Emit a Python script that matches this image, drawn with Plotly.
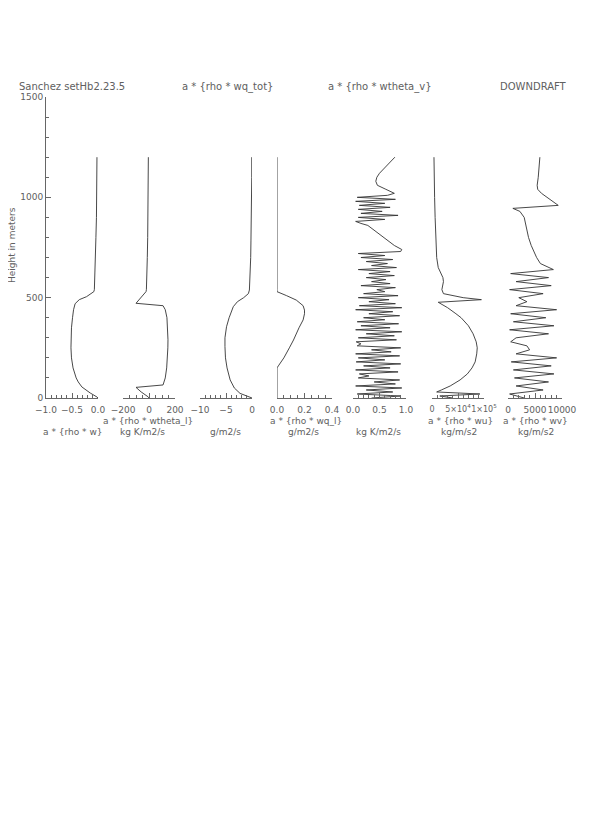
import plotly.graph_objects as go

# ---------------- data ----------------
h_w = [0, 5, 25, 55, 80, 100, 150, 200, 250, 300, 350, 400, 440, 470, 490, 505, 520, 530, 540, 600, 700, 800, 900, 1000, 1100, 1200]
v_w = [0, -0.02, -0.15, -0.31, -0.38, -0.42, -0.48, -0.51, -0.52, -0.52, -0.51, -0.49, -0.47, -0.44, -0.36, -0.22, -0.12, -0.08, -0.07, -0.06, -0.05, -0.04, -0.03, -0.03, -0.02, -0.02]

h_thl = [0, 5, 30, 53, 65, 100, 150, 200, 250, 290, 350, 400, 440, 460, 472, 490, 510, 530, 540, 600, 700, 800, 900, 1000, 1100, 1200]
v_thl = [0, -5, -60, -100, 108, 125, 136, 142, 145, 146, 144, 138, 125, 108, -100, -75, -45, -23, -20, -16, -13, -10, -8, -6, -5, -5]

h_qt = [0, 10, 23, 50, 90, 150, 200, 256, 300, 355, 400, 455, 480, 500, 520, 538, 600, 700, 787, 900, 1036, 1100, 1200]
v_qt = [0, -1.2, -2.3, -3.4, -4.2, -4.8, -5.1, -5.2, -5.2, -4.9, -4.4, -3.6, -2.8, -1.6, -0.7, -0.5, -0.35, -0.25, -0.2, -0.1, -0.05, -0.05, -0.05]

h_ql = [0, 100, 150, 160, 200, 250, 289, 350, 389, 420, 438, 460, 488, 510, 530, 540, 600, 800, 1000, 1200]
v_ql = [0, 0, 0, 0.01, 0.05, 0.09, 0.12, 0.16, 0.19, 0.2, 0.2, 0.19, 0.14, 0.07, 0.0, 0, 0, 0, 0, 0]

h_thv = [0, 10, 20, 30, 40, 50, 60, 70, 80, 90, 100, 110, 120, 130, 140, 150, 160, 170, 180, 190,
         200, 210, 220, 230, 240, 250, 260, 270, 280, 290, 300, 310, 320, 330, 340, 350, 360, 370, 380, 390,
         400, 410, 420, 430, 440, 450, 460, 470, 480, 490, 500, 510, 520, 530, 540, 550, 560, 570, 580, 590,
         600, 610, 620, 630, 640, 650, 660, 670, 680, 690, 700, 710, 720, 730, 740,
         760, 780, 800, 820, 840, 860, 870, 880, 890, 900, 910, 920, 930, 940, 950, 960, 970, 980, 990, 1000,
         1010, 1020, 1040, 1060, 1080, 1100, 1120, 1140, 1160, 1180, 1200]
v_thv = [0.35, 0.90, 0.08, 0.75, 0.25, 0.92, 0.05, 0.80, 0.40, 0.88, 0.10, 0.30, 0.12, 0.85, 0.05, 0.70, 0.20, 0.90, 0.06, 0.60,
         0.10, 0.88, 0.05, 0.72, 0.35, 0.90, 0.08, 0.15, 0.06, 0.82, 0.10, 0.78, 0.25, 0.92, 0.05, 0.70, 0.15, 0.86, 0.08, 0.60,
         0.20, 0.88, 0.30, 0.75, 0.05, 0.92, 0.12, 0.80, 0.30, 0.68, 0.10, 0.85, 0.20, 0.60, 0.45, 0.80, 0.15, 0.70, 0.35, 0.62,
         0.25, 0.78, 0.30, 0.70, 0.10, 0.82, 0.35, 0.65, 0.25, 0.75, 0.15, 0.60, 0.10, 0.90, 0.92,
         0.78, 0.68, 0.58, 0.50, 0.40, 0.28, 0.15, 0.05, 0.60, 0.10, 0.85, 0.15, 0.55, 0.10, 0.70, 0.12, 0.60, 0.05, 0.80, 0.08,
         0.65, 0.78, 0.62, 0.46, 0.43, 0.45, 0.50, 0.57, 0.64, 0.72, 0.79]

h_wu = [0, 10, 20, 30, 40, 60, 90, 120, 150, 180, 220, 250, 280, 320, 360, 400, 420, 450, 477, 490, 500, 520, 540, 560, 580, 600, 620, 650, 700, 800, 900, 1000, 1100, 1200]
v_wu = [40000, 15000, 92000, 9000, 18000, 35000, 54000, 68000, 77000, 83000, 86000, 87000, 85000, 79000, 70000, 56000, 46000, 30000, 12000, 95000, 60000, 22000, 19000, 21000, 22000, 21000, 17000, 12000, 9000, 7000, 6000, 5000, 4500, 3800]

h_wv = [0, 20, 40, 60, 80, 100, 120, 140, 160, 180, 200, 220, 240, 260, 280, 300, 320, 340, 360, 380,
        400, 420, 440, 460, 480, 500, 520, 540, 560, 580, 600, 620, 640, 650, 670, 700, 730, 760, 800, 850,
        900, 930, 945, 960, 990, 1020, 1040, 1060, 1100, 1150, 1200]
v_wv = [3000, 300, 6500, 1500, 7500, 1200, 8500, 1000, 8000, 600, 9000, 1500, 4000, 3500, 500, 1500, 7500, 300, 8500, 1000,
        7000, 500, 9000, 1500, 3500, 2000, 6500, 300, 8000, 1500, 7500, 500, 8400, 7500, 6000, 5300, 4800, 4300, 3800, 3400,
        3000, 2200, 900, 9300, 7800, 6200, 5500, 5400, 5600, 5700, 5900]

panels = [
    dict(h=h_w, v=v_w, rng=[-1, 0], tv=[-1, -0.5, 0], tt=["\u22121.0", "\u22120.5", "0.0"], minor=0.1, px=(46, 98), fs=9),
    dict(h=h_thl, v=v_thl, rng=[-200, 200], tv=[-200, 0, 200], tt=["\u2212200", "0", "200"], minor=50, px=(123, 175), fs=9),
    dict(h=h_qt, v=v_qt, rng=[-10, 0], tv=[-10, -5, 0], tt=["\u221210", "\u22125", "0"], minor=1, px=(200, 252), fs=9),
    dict(h=h_ql, v=v_ql, rng=[0, 0.4], tv=[0, 0.2, 0.4], tt=["0.0", "0.2", "0.4"], minor=0.05, px=(277, 332), fs=9),
    dict(h=h_thv, v=v_thv, rng=[0, 1], tv=[0, 0.5, 1], tt=["0.0", "0.5", "1.0"], minor=0.1, px=(353, 406), fs=9),
    dict(h=h_wu, v=v_wu, rng=[0, 100000], tv=[0, 50000, 100000], tt=["0", "5\u00d710<sup>4</sup>", "1\u00d710<sup>5</sup>"], minor=10000, px=(432, 484), fs=8),
    dict(h=h_wv, v=v_wv, rng=[0, 10000], tv=[0, 5000, 10000], tt=["0", "5000", "10000"], minor=1000, px=(508, 562), fs=9),
]

W, H = 595, 833
OX, OY = 8, 8          # page offset of the plot inside the browser window
Y0, Y1 = 398, 97       # pixel rows of 0 m and 1500 m (window coords)
LINE = "#333333"
AX = "#666666"
TXT = "#606060"
FONT = "DejaVu Sans"

def px(x):
    return (x - OX) / W

def py(y):
    return 1 - (y - OY) / H

fig = go.Figure()
layout = dict(
    width=W, height=H, margin=dict(l=0, r=0, t=0, b=0, pad=0, autoexpand=False),
    paper_bgcolor="white", plot_bgcolor="white", showlegend=False,
    font=dict(family=FONT, size=9, color=TXT),
)

for i, p in enumerate(panels, start=1):
    xa = "x" if i == 1 else f"x{i}"
    fig.add_trace(go.Scatter(x=p["v"], y=p["h"], mode="lines", xaxis=xa, yaxis="y",
                             line=dict(color=LINE, width=0.9), hoverinfo="skip"))
    layout["xaxis" if i == 1 else f"xaxis{i}"] = dict(
        domain=[px(p["px"][0]), px(p["px"][1])], anchor="y", range=p["rng"],
        automargin=False, tickangle=0, ticklabelstandoff=3,
        showgrid=False, zeroline=False, showline=True, linecolor=AX, linewidth=1,
        ticks="inside", ticklen=5, tickcolor=AX, tickwidth=1,
        tickvals=p["tv"], ticktext=p["tt"], tickfont=dict(size=p["fs"], color=TXT, family=FONT),
        minor=dict(dtick=p["minor"], ticks="inside", ticklen=3, tickcolor=AX, showgrid=False),
    )

layout["yaxis"] = dict(
    domain=[py(Y0), py(Y1)], anchor="x", range=[0, 1500], automargin=False,
    showgrid=False, zeroline=False, showline=True, linecolor=AX, linewidth=1,
    ticks="inside", ticklen=5, tickcolor=AX, tickvals=[0, 500, 1000, 1500],
    ticktext=["0", "500", "1000", "1500"], tickfont=dict(size=9, color=TXT, family=FONT),
    minor=dict(dtick=100, ticks="inside", ticklen=3, tickcolor=AX, showgrid=False),
)
fig.update_layout(**layout)

def txt(s, x, y, xanchor="center", angle=0, size=9):
    fig.add_annotation(text=s, x=px(x), y=py(y), xref="paper", yref="paper",
                       xanchor=xanchor, yanchor="middle", showarrow=False, textangle=angle,
                       font=dict(family=FONT, size=size, color=TXT))

txt("Sanchez setHb2.23.5", 17, 87, xanchor="left", size=10)
txt("a * {rho * wq_tot}", 227, 87, size=10)
txt("a * {rho * wtheta_v}", 380, 87, size=10)
txt("DOWNDRAFT", 533, 87, size=10)
txt("Height in meters", 12, 245, angle=-90, size=9)

txt("a * {rho * w}", 73, 432)
txt("a * {rho * wtheta_l}", 148, 421)
txt("kg K/m2/s", 142, 432)
txt("g/m2/s", 225, 432)
txt("a * {rho * wq_l}", 306, 421)
txt("g/m2/s", 303, 432)
txt("kg K/m2/s", 378, 432)
txt("a * {rho * wu}", 460, 421)
txt("kg/m/s2", 459, 432)
txt("a * {rho * wv}", 535, 421)
txt("kg/m/s2", 536, 432)

fig.write_html("out.html")
